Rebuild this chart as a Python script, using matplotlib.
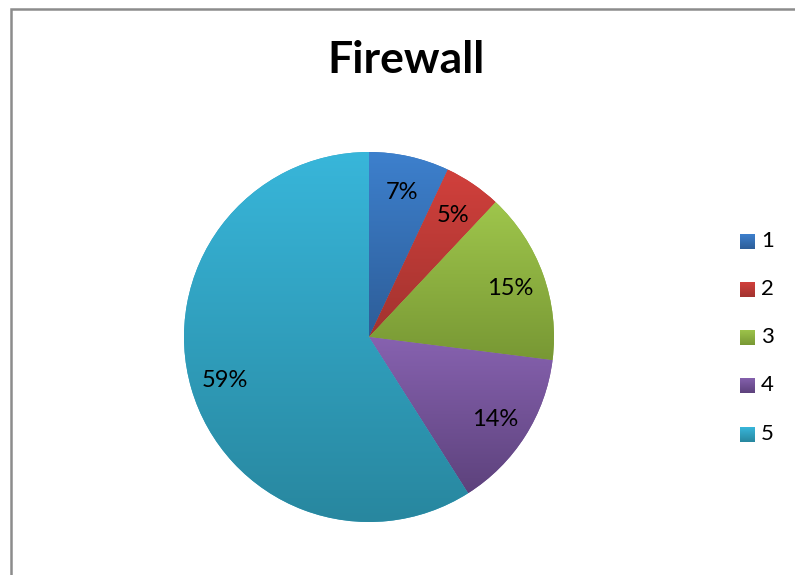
import numpy as np
import matplotlib.pyplot as plt
from matplotlib.colors import LinearSegmentedColormap
from matplotlib.patches import Rectangle

labels = ['1', '2', '3', '4', '5']
values = [7, 5, 15, 14, 59]
top_colors = ['#3d80cd', '#d1403c', '#9fc64c', '#8762b0', '#38b6da']
bottom_colors = ['#2d5d98', '#a2332f', '#789834', '#5d427c', '#28879f']
base_colors = ['#3570b5', '#bc3a36', '#8bb041', '#735398', '#31a0c0']

plt.rcParams['font.family'] = ['Lato', 'DejaVu Sans']

fig = plt.figure(figsize=(7.95, 5.75), dpi=100)

# chart frame (cut off at right and bottom like the original)
fig.patches.append(Rectangle((11 / 795, -0.05), 1.1, 1 - 9 / 575 + 0.05,
                             transform=fig.transFigure, fill=False,
                             edgecolor='#8c8c8c', linewidth=1.8))

cx, cy, r = 369, 337, 185
ax = fig.add_axes([(cx - r) / 795, (575 - cy - r) / 575, 2 * r / 795, 2 * r / 575])

wedges, texts, autotexts = ax.pie(values, colors=base_colors, startangle=90,
                                  counterclock=False, radius=1,
                                  autopct='%1.0f%%', pctdistance=0.81,
                                  textprops={'fontsize': 17, 'color': 'black'})

# vertical gradient inside each slice
grad = np.linspace(1, 0, 256).reshape(-1, 1)
for w, c1, c2 in zip(wedges, top_colors, bottom_colors):
    path = w.get_path().transformed(w.get_patch_transform())
    ext = path.get_extents()
    cmap = LinearSegmentedColormap.from_list('g', [c2, c1])
    im = ax.imshow(grad, cmap=cmap, aspect='auto',
                   extent=[ext.x0, ext.x1, ext.y0, ext.y1], zorder=1.5)
    im.set_clip_path(w)
    w.set_zorder(1)

for t in autotexts:
    t.set_zorder(3)
    t.set_va('center_baseline')

ax.set_xlim(-1, 1)
ax.set_ylim(-1, 1)
ax.set_aspect('equal')
ax.axis('off')

fig.text(406 / 795, 1 - 60 / 575, 'Firewall', ha='center', va='center',
         fontsize=32, fontweight='bold')

# legend
leg_y = [241, 289, 337, 385, 434]
for lab, yy, c1, c2 in zip(labels, leg_y, top_colors, bottom_colors):
    lax = fig.add_axes([740 / 795, 1 - (yy + 8) / 575, 15 / 795, 15 / 575])
    lax.imshow(grad, cmap=LinearSegmentedColormap.from_list('g', [c2, c1]),
               aspect='auto', extent=[0, 1, 0, 1])
    lax.axis('off')
    fig.text(761 / 795, 1 - yy / 575, lab, ha='left', va='center', fontsize=16)

fig.savefig('out.png', dpi=100)
